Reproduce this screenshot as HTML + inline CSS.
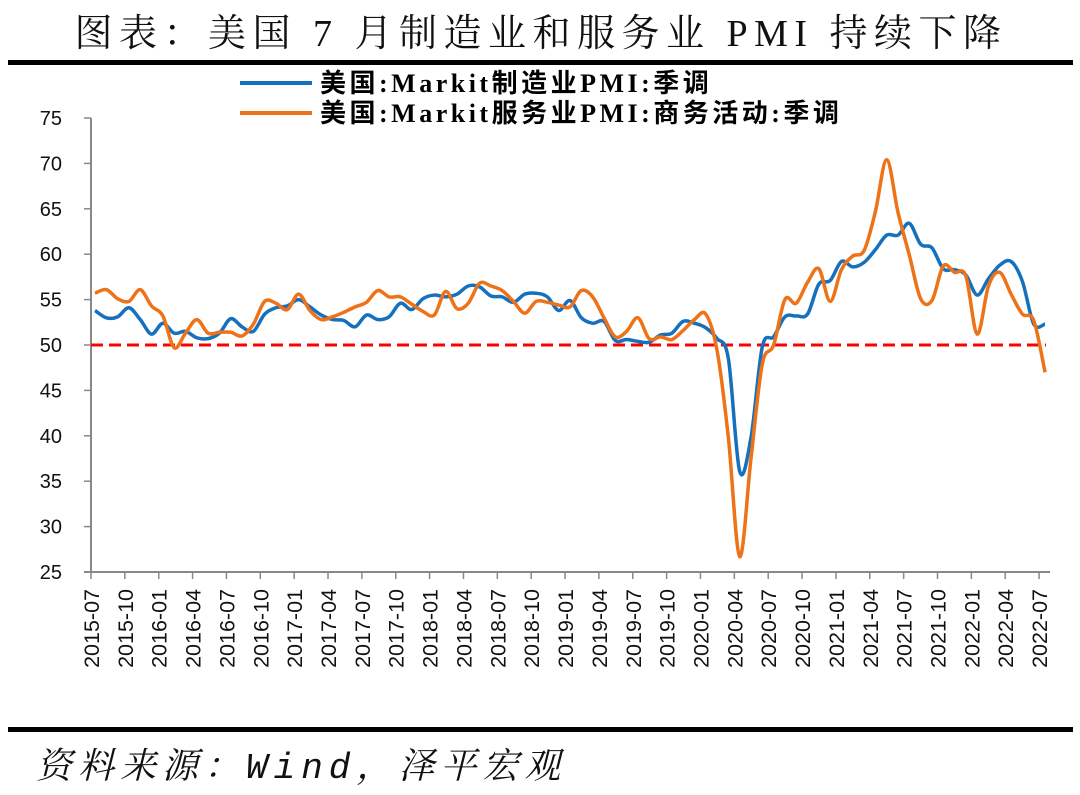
<!DOCTYPE html>
<html><head><meta charset="utf-8"><style>
body{margin:0;background:#fff;width:1080px;height:790px;overflow:hidden}
</style></head><body>
<svg id="s" width="1080" height="790" xmlns="http://www.w3.org/2000/svg">
<text x="541" y="46" text-anchor="middle" font-family="'Liberation Serif','Noto Serif CJK SC',serif" font-size="38" letter-spacing="6.5" fill="#111">图表：美国 7 月制造业和服务业 PMI 持续下降</text>
<rect x="8" y="60" width="1065" height="5" fill="#000"/>
<rect x="8" y="727" width="1065" height="5" fill="#000"/>
<text x="36" y="778" font-family="'Liberation Mono','Noto Serif CJK SC',serif" font-size="36" font-style="italic" letter-spacing="6" fill="#111">资料来源：Wind，泽平宏观</text>
<line x1="240" y1="83" x2="312" y2="83" stroke="#1570BE" stroke-width="4"/>
<line x1="240" y1="113" x2="312" y2="113" stroke="#EE7218" stroke-width="4"/>
<text x="320" y="92" font-family="'Liberation Serif','Noto Sans CJK SC',serif" font-weight="bold" font-size="26" letter-spacing="3.5" fill="#000">美国:Markit制造业PMI:季调</text>
<text x="320" y="122" font-family="'Liberation Serif','Noto Sans CJK SC',serif" font-weight="bold" font-size="26" letter-spacing="3.5" fill="#000">美国:Markit服务业PMI:商务活动:季调</text>
<g id="ax"></g>
</svg>
<script>
var ns="http://www.w3.org/2000/svg",ax=document.getElementById('ax');
function el(t,a,txt){var e=document.createElementNS(ns,t);for(var k in a)e.setAttribute(k,a[k]);if(txt)e.textContent=txt;ax.appendChild(e);return e;}
function Y(v){return 118+(75-v)*9.08;}
el('line',{x1:91,y1:118,x2:91,y2:572,stroke:'#888','stroke-width':2});
el('line',{x1:84,y1:572,x2:1050,y2:572,stroke:'#888','stroke-width':2});
for(var v=25;v<=75;v+=5){var y=Y(v);el('line',{x1:84,y1:y,x2:91,y2:y,stroke:'#888','stroke-width':1.5});
el('text',{x:62,y:y+7,'text-anchor':'end','font-family':'Liberation Sans,sans-serif','font-size':20,fill:'#111'},String(v));}
var lab=[];for(var i=0;i<=28;i++){var m=7+i*3;var yr=2015+Math.floor((m-1)/12);var mm=((m-1)%12)+1;lab.push(yr+'-'+(mm<10?'0':'')+mm);}
lab.forEach(function(l,i){var x=91+i*33.86;el('line',{x1:x,y1:572,x2:x,y2:579,stroke:'#888','stroke-width':1.5});
el('text',{x:0,y:0,transform:'translate('+(x+8)+',589) rotate(-90)','text-anchor':'end','font-family':'Liberation Sans,sans-serif','font-size':21.5,fill:'#111'},l);});
el('line',{x1:91,y1:Y(50),x2:1046,y2:Y(50),stroke:'#F00','stroke-width':3,'stroke-dasharray':'12,6'});
var man=[53.8,53.0,53.1,54.1,52.8,51.2,52.4,51.3,51.5,50.8,50.7,51.3,52.9,52.0,51.5,53.4,54.1,54.3,55.0,54.2,53.3,52.8,52.7,52.0,53.3,52.8,53.1,54.6,53.9,55.1,55.5,55.3,55.6,56.5,56.4,55.4,55.3,54.7,55.6,55.7,55.3,53.8,54.9,53.0,52.4,52.6,50.5,50.6,50.4,50.3,51.1,51.3,52.6,52.4,51.9,50.7,48.5,36.1,39.8,49.8,50.9,53.1,53.2,53.4,56.7,57.1,59.2,58.6,59.1,60.5,62.1,62.1,63.4,61.1,60.7,58.4,58.3,57.7,55.5,57.3,58.8,59.2,57.0,52.3,52.3];
var svc=[55.7,56.1,55.1,54.8,56.1,54.3,53.2,49.7,51.3,52.8,51.3,51.4,51.4,51.0,52.3,54.8,54.6,53.9,55.6,53.8,52.8,53.1,53.6,54.2,54.7,56.0,55.3,55.3,54.5,53.7,53.3,55.9,54.0,54.6,56.8,56.5,56.0,54.8,53.5,54.8,54.7,54.4,54.2,56.0,55.3,53.0,50.9,51.5,53.0,50.7,50.9,50.6,51.6,52.8,53.4,49.4,39.8,26.7,37.5,47.9,50.0,55.0,54.6,56.9,58.4,54.8,58.3,59.8,60.4,64.7,70.4,64.6,59.9,55.1,54.9,58.7,58.0,57.6,51.2,56.5,58.0,55.6,53.4,52.7,47.0];
function path(d){var p=d.map(function(v,i){return [95+i*11.31,Y(v)];});var s='M'+p[0][0]+','+p[0][1];
for(var i=0;i<p.length-1;i++){var a=p[Math.max(0,i-1)],b=p[i],c=p[i+1],e=p[Math.min(p.length-1,i+2)];
var t=1/6;s+=' C'+(b[0]+(c[0]-a[0])*t)+','+(b[1]+(c[1]-a[1])*t)+' '+(c[0]-(e[0]-b[0])*t)+','+(c[1]-(e[1]-b[1])*t)+' '+c[0]+','+c[1];}return s;}
el('path',{d:path(man),fill:'none',stroke:'#1570BE','stroke-width':3.5,'stroke-linejoin':'round'});
el('path',{d:path(svc),fill:'none',stroke:'#EE7218','stroke-width':3.5,'stroke-linejoin':'round'});
</script>
</body></html>
